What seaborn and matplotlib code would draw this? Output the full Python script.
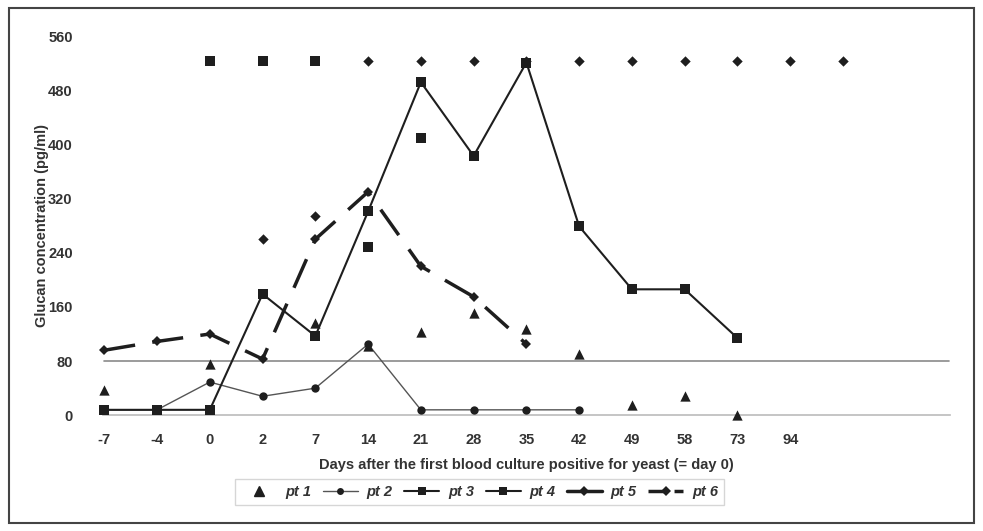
import numpy as np
import pandas as pd
import seaborn as sns
import matplotlib.pyplot as plt
from matplotlib.lines import Line2D
from matplotlib.patches import Rectangle

# categories on the x axis (3 empty slots at the end)
days = ["-7", "-4", "0", "2", "7", "14", "21", "28", "35", "42", "49", "58", "73", "94", "", "", ""]

pt1 = [37, None, 75, None, 136, 103, 123, 151, 128, 90, 15, 28, 0]
pt2 = [8, 8, 49, 28, 40, 105, 8, 8, 8, 8]
pt3 = [8, 8, 8, 179, 117, 301, 492, 383, 521, 279, 186, 186, 114]
pt4 = [None, None, 523, 523, 523, 248, 409]
pt5 = [None, None, None, 261, 295, 523, 523, 523, 523, 523, 523, 523, 523, 523, 523]
pt6 = [96, 109, 120, 83, 260, 330, 220, 175, 105]
cutoff = 80

yticks = [0, 80, 160, 240, 320, 400, 480, 560]


def to_df(vals):
    df = pd.DataFrame({"x": np.arange(len(vals)), "y": vals}, dtype=float)
    return df.dropna()


def main():
    sns.set_theme(style="white")
    plt.rcParams["font.family"] = ["Liberation Sans", "DejaVu Sans"]

    fig = plt.figure(figsize=(9.83, 5.31), dpi=100)
    ax = fig.add_axes([0.105, 0.218, 0.861, 0.714])
    col = "#1e1e1e"

    # seuil 80 pg/ml
    ax.plot([0, len(days) - 1], [cutoff, cutoff], color="#8a8a8a", lw=1.2, zorder=1)

    d = to_df(pt2)
    sns.lineplot(data=d, x="x", y="y", ax=ax, color="#555555", lw=1.0,
                 marker="o", markersize=6, markeredgewidth=0, markerfacecolor=col, zorder=3)
    d = to_df(pt3)
    sns.lineplot(data=d, x="x", y="y", ax=ax, color=col, lw=1.5,
                 marker="s", markersize=7, markeredgewidth=0, zorder=4)
    d = to_df(pt6)
    sns.lineplot(data=d, x="x", y="y", ax=ax, color=col, lw=2.5,
                 marker="D", markersize=5, markeredgewidth=0, zorder=3)
    ax.lines[-1].set_dashes([9, 5])
    d = to_df(pt1)
    sns.scatterplot(data=d, x="x", y="y", ax=ax, color=col, marker="^", s=55,
                    linewidth=0, zorder=5)
    d = to_df(pt4)
    sns.scatterplot(data=d, x="x", y="y", ax=ax, color=col, marker="s", s=55,
                    linewidth=0, zorder=5)
    d = to_df(pt5)
    sns.scatterplot(data=d, x="x", y="y", ax=ax, color=col, marker="D", s=28,
                    linewidth=0, zorder=5)
    for art in ax.lines + ax.collections:
        art.set_clip_on(False)

    ax.set_xlim(-0.02, len(days) - 1 + 0.02)
    ax.set_ylim(0, 560)
    ax.set_xticks(range(len(days)))
    ax.set_xticklabels(days)
    ax.set_yticks(yticks)
    ax.tick_params(axis="x", length=5, width=1, color="#bbbbbb", direction="out",
                   labelsize=10.5, pad=8)
    ax.tick_params(axis="y", length=0, labelsize=10.5, pad=22)
    for lab in ax.get_xticklabels() + ax.get_yticklabels():
        lab.set_fontweight("bold")
        lab.set_color("#333333")
    for s in ["top", "right", "left"]:
        ax.spines[s].set_visible(False)
    ax.spines["bottom"].set_color("#bbbbbb")
    ax.spines["bottom"].set_linewidth(1.2)

    ax.set_xlabel("Days after the first blood culture positive for yeast (= day 0)",
                  fontsize=10.5, fontweight="bold", color="#333333", labelpad=8)
    ax.set_ylabel("Glucan concentration (pg/ml)", fontsize=10.5, fontweight="bold",
                  color="#333333")
    ax.yaxis.set_label_coords(-0.064, 0.5)

    handles = [
        Line2D([], [], color=col, lw=0, marker="^", markersize=7),
        Line2D([], [], color="#555555", lw=1.0, marker="o", markersize=5, markerfacecolor=col, markeredgewidth=0),
        Line2D([], [], color=col, lw=1.5, marker="s", markersize=6, markeredgewidth=0),
        Line2D([], [], color=col, lw=1.5, marker="s", markersize=6, markeredgewidth=0),
        Line2D([], [], color=col, lw=2.5, marker="D", markersize=5, markeredgewidth=0),
        Line2D([], [], color=col, lw=2.5, marker="D", markersize=5, markeredgewidth=0, dashes=[5, 2.5]),
    ]
    labels = ["pt 1", "pt 2", "pt 3", "pt 4", "pt 5", "pt 6"]
    leg = fig.legend(handles, labels, loc="center", bbox_to_anchor=(0.488, 0.073), ncol=6,
                     frameon=True, fancybox=False, handlelength=2.4, handletextpad=0.6,
                     columnspacing=0.8, prop={"size": 10.5, "weight": "bold", "style": "italic"})
    leg.get_frame().set_edgecolor("#cccccc")
    leg.get_frame().set_linewidth(1.0)
    for t in leg.get_texts():
        t.set_color("#333333")

    # cadre autour de la figure
    fig.patches.append(Rectangle((0.009, 0.015), 0.982, 0.97, transform=fig.transFigure,
                                 fill=False, edgecolor="#444444", lw=1.5))

    fig.savefig("out.png", dpi=100)


if __name__ == "__main__":
    main()
